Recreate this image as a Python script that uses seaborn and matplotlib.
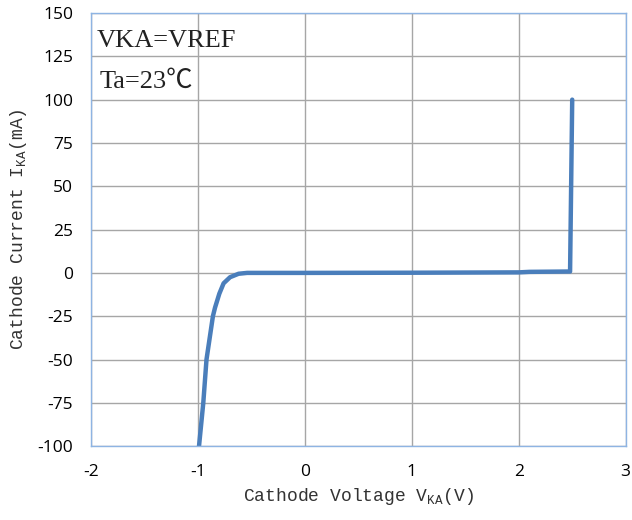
import numpy as np
import pandas as pd
import matplotlib.pyplot as plt
import seaborn as sns

# I-V curve
voltage = [-0.99, -0.95, -0.92, -0.86, -0.84, -0.80, -0.76, -0.70, -0.62, -0.54,
           0.0, 1.0, 2.0, 2.1, 2.48, 2.5]
current = [-100, -75, -50, -25, -20, -12, -6, -2.5, -0.5, 0.0,
           0.0, 0.1, 0.3, 0.6, 0.8, 100]
x_ticks = [-2, -1, 0, 1, 2, 3]
y_ticks = [-100, -75, -50, -25, 0, 25, 50, 75, 100, 125, 150]

df = pd.DataFrame({'V': voltage, 'I': current})

sns.set_theme(style='whitegrid')
plt.rcParams['font.family'] = ['Open Sans', 'DejaVu Sans']
plt.rcParams['axes.unicode_minus'] = False
plt.rcParams['mathtext.fontset'] = 'custom'
plt.rcParams['mathtext.rm'] = 'Liberation Mono'

fig = plt.figure(figsize=(6.32, 5.2), dpi=100)
ax = fig.add_axes([0.144, 0.142, 0.846, 0.833])

sns.lineplot(data=df, x='V', y='I', sort=False, estimator=None,
             color='#4a7ebb', linewidth=3.2, ax=ax)

ax.set_xlim(-2, 3)
ax.set_ylim(-100, 150)
ax.set_xticks(x_ticks)
ax.set_yticks(y_ticks)
ax.grid(True, color='#a6a6a6', linewidth=1.0)
ax.tick_params(axis='both', length=0, labelsize=12.5, colors='black', pad=13)
for s in ax.spines.values():
    s.set_color('#8eb4e3')
    s.set_linewidth(1.0)

mono = ['Liberation Mono', 'DejaVu Sans Mono']
ax.set_xlabel(r'Cathode Voltage V$_{\mathrm{KA}}$(V)', family=mono,
              fontsize=13, color='#333333', labelpad=4)
ax.set_ylabel(r'Cathode Current I$_{\mathrm{KA}}$(mA)', family=mono,
              fontsize=13, color='#333333', labelpad=6)

serif = ['Liberation Serif', 'Noto Sans CJK SC']
ax.text(0.011, 0.935, 'VKA=VREF', transform=ax.transAxes, family=serif,
        fontsize=19, va='center', ha='left', color='#222222')
ax.text(0.016, 0.84, 'Ta=23℃', transform=ax.transAxes, family=serif,
        fontsize=19, va='center', ha='left', color='#222222')

fig.savefig('out.png', dpi=100)
